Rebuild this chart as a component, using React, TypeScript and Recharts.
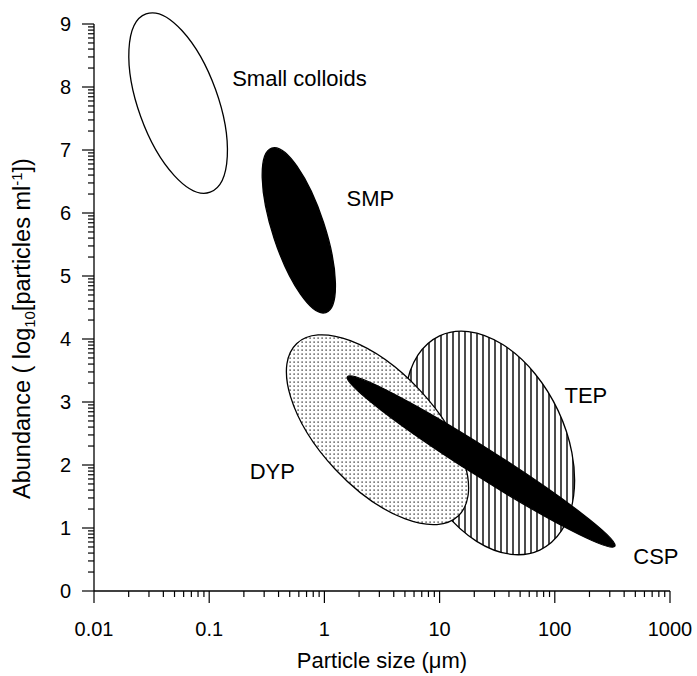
import React from "react";
import {
  ScatterChart,
  Scatter,
  XAxis,
  YAxis,
  ReferenceLine,
  Label,
} from "recharts";

// Region ellipses: ends of the long axis (particle size, log10 abundance)
// plus the short/long axis ratio. Drawn in this order (later on top).
const REGION_NAMES = ["Small colloids", "SMP", "TEP", "DYP", "CSP"];
const START_SIZE = [0.0283, 0.349, 10.0, 0.576, 1.585];
const START_ABUND = [9.16, 7.03, 4.05, 3.93, 3.4];
const END_SIZE = [0.102, 1.03, 74.1, 14.5, 332];
const END_ABUND = [6.33, 4.42, 0.65, 1.19, 0.71];
const WIDTH_RATIO = [0.42, 0.3, 0.64, 0.49, 0.09];
const REGION_FILL = ["#fff", "#000", "url(#tepStripes)", "url(#dypDots)", "#000"];

// Text labels placed beside each region
const LABEL_TEXT = ["Small colloids", "SMP", "TEP", "DYP", "CSP"];
const LABEL_SIZE = [0.607, 2.51, 186, 0.353, 755];
const LABEL_ABUND = [8.14, 6.24, 3.1, 1.9, 0.556];

// Axes
const X_DECADES = [0.01, 0.1, 1, 10, 100, 1000];
const X_TICK_LABELS = ["0.01", "0.1", "1", "10", "100", "1000"];
const Y_MAJOR = [0, 1, 2, 3, 4, 5, 6, 7, 8, 9];
const MINOR_STEPS = [2, 3, 4, 5, 6, 7, 8, 9];

const xTicks: number[] = [];
X_DECADES.forEach((d, i) => {
  xTicks.push(d);
  if (i < X_DECADES.length - 1) MINOR_STEPS.forEach((m) => xTicks.push(d * m));
});
const yTicks: number[] = [];
Y_MAJOR.forEach((v, i) => {
  yTicks.push(v);
  if (i < Y_MAJOR.length - 1) MINOR_STEPS.forEach((m) => yTicks.push(v + Math.log10(m)));
});

const FONT = "'Liberation Sans', Arial, Helvetica, sans-serif";

const labelData = LABEL_TEXT.map((t, i) => ({ name: t, x: LABEL_SIZE[i], y: LABEL_ABUND[i] }));

function XTick(props: any) {
  const { x, y, payload } = props;
  const lg = Math.log10(payload.value);
  const major = Math.abs(lg - Math.round(lg)) < 1e-6;
  const idx = X_DECADES.findIndex((d) => Math.abs(Math.log10(d) - lg) < 1e-6);
  return (
    <g>
      <line x1={x} x2={x} y1={y} y2={y + (major ? 12 : 6)} stroke="#000" strokeWidth={1.2} />
      {major && (
        <text x={x} y={y + 45} textAnchor="middle" fontSize={20} fontFamily={FONT} fill="#000">
          {X_TICK_LABELS[idx]}
        </text>
      )}
    </g>
  );
}

function YTick(props: any) {
  const { x, y, payload } = props;
  const v = payload.value;
  const major = Math.abs(v - Math.round(v)) < 1e-6;
  return (
    <g>
      <line x1={x} x2={x - (major ? 12 : 6)} y1={y} y2={y} stroke="#000" strokeWidth={1.2} />
      {major && (
        <text x={x - 23} y={y + 7} textAnchor="end" fontSize={20} fontFamily={FONT} fill="#000">
          {Math.round(v)}
        </text>
      )}
    </g>
  );
}

function XTitle(props: any) {
  const vb = props.viewBox;
  return (
    <text x={vb.x + vb.width / 2} y={vb.y + 77} textAnchor="middle" fontSize={22} fontFamily={FONT} fill="#000">
      Particle size (μm)
    </text>
  );
}

function YTitle(props: any) {
  const vb = props.viewBox;
  const cx = 30;
  const cy = vb.y + vb.height / 2 + 21;
  return (
    <text
      x={cx}
      y={cy}
      transform={`rotate(-90, ${cx}, ${cy})`}
      textAnchor="middle"
      fontSize={23.5}
      fontFamily={FONT}
      fill="#000"
    >
      Abundance ( log
      <tspan dy={5} fontSize={15}>10</tspan>
      <tspan dy={-5}>[particles ml</tspan>
      <tspan dy={-8} fontSize={15}>-1</tspan>
      <tspan dy={8}>])</tspan>
    </text>
  );
}

function makeEllipse(i: number) {
  return (props: any) => {
    const { x1, y1, x2, y2 } = props;
    const rx = Math.hypot(x2 - x1, y2 - y1) / 2;
    const ry = rx * WIDTH_RATIO[i];
    const ang = (Math.atan2(y2 - y1, x2 - x1) * 180) / Math.PI;
    const d =
      `M${x1},${y1} A${rx},${ry} ${ang} 1 0 ${x2},${y2} ` +
      `A${rx},${ry} ${ang} 1 0 ${x1},${y1} Z`;
    return (
      <g>
        <defs>
          <pattern id="dypDots" width={4} height={4} patternUnits="userSpaceOnUse">
            <rect width={4} height={4} fill="#fff" />
            <rect x={1.5} y={1.5} width={1.2} height={1.2} fill="#000" />
          </pattern>
          <pattern id="tepStripes" width={6} height={6} patternUnits="userSpaceOnUse">
            <rect width={6} height={6} fill="#fff" />
            <rect x={2.3} y={0} width={1.4} height={6} fill="#000" />
          </pattern>
        </defs>
        <path d={d} fill={REGION_FILL[i]} stroke="#000" strokeWidth={1.3} />
      </g>
    );
  };
}

function RegionLabel(props: any) {
  const { cx, cy, payload } = props;
  return (
    <text x={cx} y={cy} dy="0.35em" textAnchor="middle" fontSize={22} fontFamily={FONT} fill="#000">
      {payload.name}
    </text>
  );
}

export default function App() {
  return (
    <div style={{ position: "absolute", left: 0, top: 0, background: "#fff" }}>
      <ScatterChart width={697} height={676} margin={{ top: 24, right: 27, bottom: 0, left: 0 }}>
        <XAxis
          type="number"
          dataKey="x"
          scale="log"
          domain={[0.01, 1000]}
          ticks={xTicks}
          interval={0}
          height={85}
          tickSize={0}
          tickMargin={0}
          tickLine={false}
          tick={<XTick />}
          axisLine={{ stroke: "#000", strokeWidth: 1.3 }}
        >
          <Label content={<XTitle />} />
        </XAxis>
        <YAxis
          type="number"
          dataKey="y"
          domain={[0, 9]}
          ticks={yTicks}
          interval={0}
          width={94}
          tickSize={0}
          tickMargin={0}
          tickLine={false}
          tick={<YTick />}
          axisLine={{ stroke: "#000", strokeWidth: 1.3 }}
        >
          <Label content={<YTitle />} />
        </YAxis>
        {REGION_NAMES.map((name, i) => (
          <ReferenceLine
            key={name}
            ifOverflow="visible"
            segment={[
              { x: START_SIZE[i], y: START_ABUND[i] },
              { x: END_SIZE[i], y: END_ABUND[i] },
            ]}
            shape={makeEllipse(i)}
          />
        ))}
        <Scatter data={labelData} isAnimationActive={false} shape={<RegionLabel />} />
      </ScatterChart>
    </div>
  );
}
